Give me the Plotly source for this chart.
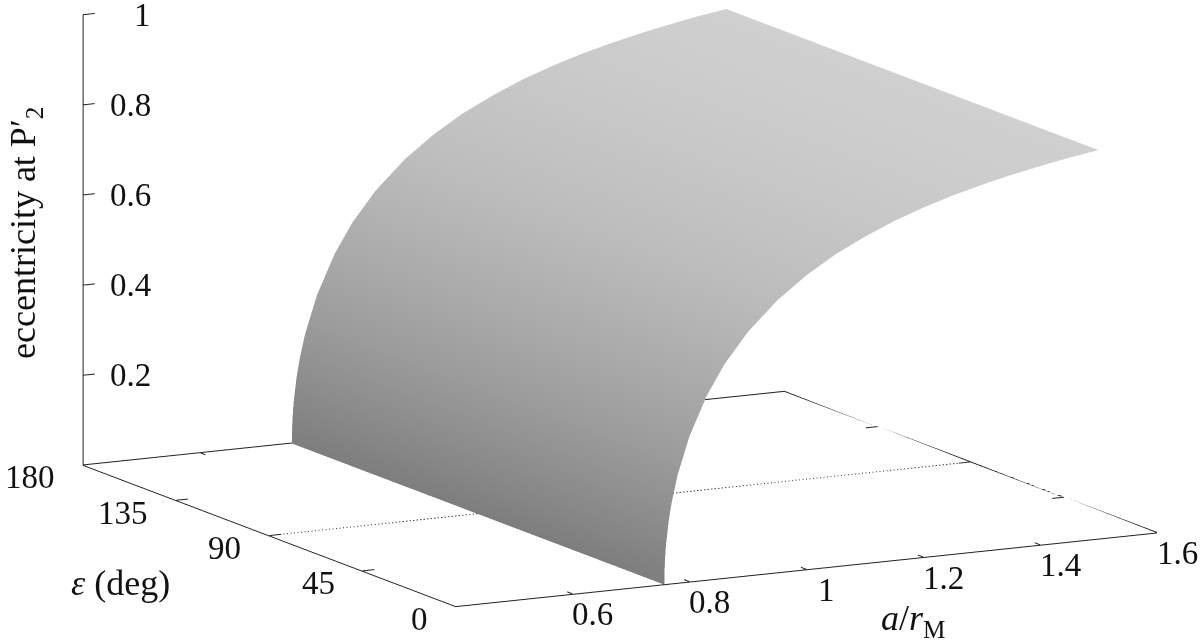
import plotly.graph_objects as go

# Data
a_over_rM = [0.757, 0.758, 0.76, 0.765, 0.77, 0.78, 0.80, 0.83, 0.86, 0.90, 0.95, 1.0, 1.05, 1.1,
             1.15, 1.2, 1.25, 1.3, 1.35, 1.4, 1.45, 1.5]
eccentricity = [0.0, 0.051, 0.089, 0.144, 0.183, 0.241, 0.323, 0.41, 0.475, 0.541, 0.604, 0.653,
                0.693, 0.725, 0.753, 0.776, 0.796, 0.813, 0.828, 0.841, 0.853, 0.863]
epsilon_deg = [0, 45, 90, 135, 180]

x_ticks = [0.6, 0.8, 1.0, 1.2, 1.4, 1.6]
x_ticktext = ["0.6", "0.8", "1", "1.2", "1.4", "1.6"]
y_ticks = [0, 45, 90, 135, 180]
y_ticktext = ["0", "45", "90", "135", "180"]
z_ticks = [0.2, 0.4, 0.6, 0.8, 1.0]
z_ticktext = ["0.2", "0.4", "0.6", "0.8", "1"]
x_range = [0.4, 1.6]
y_range = [0, 180]
z_range = [0, 1]
x_tick_depth = 2.6   # tick length on the a axis, in degrees of epsilon
y_tick_depth = 0.02  # tick length on the epsilon axis, in a units
base_lift = 0.001    # keeps the base lines just above the hidden box plane

FONT = "Liberation Serif"
INK = "#111111"
TICK = dict(family=FONT, size=33, color=INK)
TITLE = dict(family=FONT, size=36, color=INK)
LINE = "#222222"

fig = go.Figure()
fig.add_trace(go.Surface(
    x=a_over_rM, y=epsilon_deg, z=[eccentricity for _ in epsilon_deg],
    surfacecolor=[eccentricity for _ in epsilon_deg],
    colorscale=[[0, "#7e7e7e"], [0.32, "#9c9c9c"], [0.7, "#bcbcbc"], [1, "#d0d0d0"]], cmin=0, cmax=0.863,
    showscale=False, hoverinfo="skip",
    lighting=dict(ambient=1, diffuse=0, specular=0, fresnel=0, roughness=1),
))
# back edges of the base, one trace per edge, one segment per tick interval
back_x = [x_range[0]] + x_ticks
fig.add_trace(go.Scatter3d(
    x=back_x, y=[y_range[1]] * len(back_x), z=[base_lift] * len(back_x),
    mode="lines", line=dict(color=LINE, width=2), hoverinfo="skip", showlegend=False))
fig.add_trace(go.Scatter3d(
    x=[x_range[1]] * len(y_ticks), y=y_ticks, z=[base_lift] * len(y_ticks),
    mode="lines", line=dict(color=LINE, width=2), hoverinfo="skip", showlegend=False))
# dotted line across the base at the middle tick of the epsilon axis
fig.add_trace(go.Scatter3d(
    x=x_range, y=[y_ticks[2], y_ticks[2]], z=[base_lift, base_lift],
    mode="lines", line=dict(color="#444444", width=2, dash="dot"), hoverinfo="skip", showlegend=False))

# tick marks, built from the tick arrays
tx, ty, tz = [], [], []
for v in x_ticks[:-1]:
    tx += [v, v, None, v, v, None]
    ty += [y_range[0], y_range[0] + x_tick_depth, None, y_range[1], y_range[1] - x_tick_depth, None]
    tz += [base_lift, base_lift, None, base_lift, base_lift, None]
for v in y_ticks[1:-1]:
    tx += [x_range[0], x_range[0] + y_tick_depth, None, x_range[1], x_range[1] - y_tick_depth, None]
    ty += [v, v, None, v, v, None]
    tz += [base_lift, base_lift, None, base_lift, base_lift, None]
for v in z_ticks:
    tx += [x_range[0], x_range[0] + y_tick_depth, None]
    ty += [y_range[1], y_range[1], None]
    tz += [v, v, None]
fig.add_trace(go.Scatter3d(x=tx, y=ty, z=tz, mode="lines", line=dict(color=LINE, width=2),
                           hoverinfo="skip", showlegend=False))

common = dict(showbackground=False, showgrid=False, zeroline=False, showspikes=False,
              showline=True, linecolor=LINE, linewidth=2, ticks="", showticklabels=False,
              title=dict(text=""))

labels = []
for v, t in zip(x_ticks, x_ticktext):
    labels.append(dict(x=v, y=y_range[0], z=0, text=t, showarrow=False, font=TICK,
                       xanchor="center", yanchor="middle", xshift=20, yshift=-20))
for v, t in zip(y_ticks, y_ticktext):
    labels.append(dict(x=x_range[0], y=v, z=0, text=t, showarrow=False, font=TICK,
                       xanchor="right", yanchor="middle", xshift=-26, yshift=-12))
for v, t in zip(z_ticks, z_ticktext):
    labels.append(dict(x=x_range[0], y=y_range[1], z=v, text=t, showarrow=False, font=TICK,
                       xanchor="right", yanchor="middle", xshift=70, yshift=0))

D = 4.0
dir_ = (-0.4564, -0.8671, 0.1995)
center = dict(x=-0.0553, y=0.029, z=-0.1499)

fig.update_layout(
    width=1200, height=642, margin=dict(l=0, r=0, t=0, b=0), paper_bgcolor="white", showlegend=False,
    scene=dict(
        domain=dict(x=[0, 1], y=[0, 1]),
        aspectmode="manual", aspectratio=dict(x=2.469, y=2.492, z=1.433),
        camera=dict(projection=dict(type="orthographic"), up=dict(x=0, y=0, z=1),
                    center=center,
                    eye=dict(x=center["x"] + dir_[0] * D, y=center["y"] + dir_[1] * D, z=center["z"] + dir_[2] * D)),
        xaxis=dict(range=x_range, tickvals=x_ticks, **common),
        yaxis=dict(range=y_range, tickvals=y_ticks, **common),
        zaxis=dict(range=z_range, tickvals=z_ticks, **common),
        annotations=labels,
    ),
    annotations=[
        dict(text="eccentricity at P′<sub>2</sub>", x=25 / 1200, y=1 - 233 / 642, xref="paper", yref="paper",
             xanchor="center", yanchor="middle", showarrow=False, textangle=-90, font=TITLE),
        dict(text="<i>ε</i> (deg)", x=120 / 1200, y=1 - 583 / 642, xref="paper", yref="paper",
             xanchor="center", yanchor="middle", showarrow=False, font=TITLE),
        dict(text="<i>a</i>/<i>r</i><sub>M</sub>", x=913 / 1200, y=1 - 620 / 642, xref="paper", yref="paper",
             xanchor="center", yanchor="middle", showarrow=False, font=TITLE),
    ],
)
fig.write_html("out.html", config=dict(displayModeBar=False), post_script="document.body.style.margin='0';")
